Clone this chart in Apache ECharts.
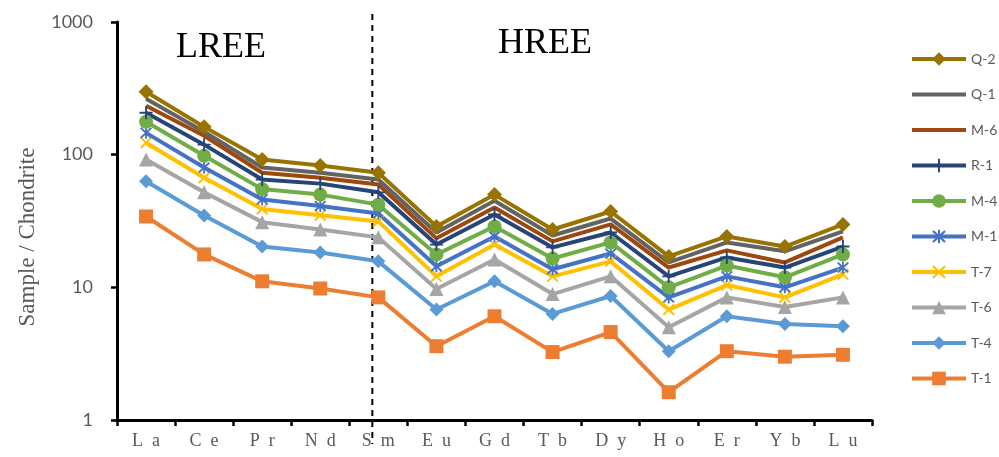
<!DOCTYPE html>
<html>
<head>
<meta charset="utf-8">
<script src="https://cdn.jsdelivr.net/npm/echarts@6/dist/echarts.min.js"></script>
<style>
  html, body { margin: 0; padding: 0; background: #fff; }
  #chart { width: 999px; height: 457px; }
</style>
</head>
<body>
<div id="chart"></div>
<script>
// Chondrite-normalised REE patterns
const elements = ['La', 'Ce', 'Pr', 'Nd', 'Sm', 'Eu', 'Gd', 'Tb', 'Dy', 'Ho', 'Er', 'Yb', 'Lu'];
const yTicks = [1, 10, 100, 1000];

const Q2 = [298, 162, 92, 83, 73, 28.8, 50, 27.3, 37.3, 17.1, 24.2, 20.3, 29.8];
const Q1 = [264, 149, 80, 73, 65, 25.9, 45, 24.6, 33, 15.4, 21.8, 18.7, 26.4];
const M6 = [234, 139, 73, 67, 59.5, 23.4, 40, 22.2, 29.8, 14.1, 19, 15.4, 23.8];
const R1 = [207, 119, 65, 60.5, 52, 21, 35.4, 20, 25.9, 12.1, 16.8, 14.1, 20.3];
const M4 = [177, 98, 55, 50, 42, 17.7, 28.8, 16.5, 21.8, 10, 14.6, 11.9, 17.7];
const M1 = [146, 80, 46, 41, 36, 14.4, 24.2, 13.7, 18, 8.4, 12.1, 10, 14.1];
const T7 = [123, 67, 39, 35, 31.4, 12.1, 21, 12.1, 15.7, 6.8, 10.4, 8.4, 12.5];
const T6 = [92, 52, 31, 27.3, 23.8, 9.7, 16.2, 8.9, 12.1, 5.0, 8.4, 7.1, 8.4];
const T4 = [63, 34.8, 20.3, 18.3, 15.7, 6.8, 11.1, 6.3, 8.6, 3.3, 6.05, 5.3, 5.1];
const T1 = [34.2, 17.7, 11.1, 9.8, 8.4, 3.6, 6.05, 3.25, 4.6, 1.62, 3.3, 3.0, 3.1];

const legendOrder = ['Q-2', 'Q-1', 'M-6', 'R-1', 'M-4', 'M-1', 'T-7', 'T-6', 'T-4', 'T-1'];
const plainLines = ['Q-1', 'M-6'];

// marker shapes
const plusPath = 'path://M6,0H8V6H14V8H8V14H6V8H0V6H6Z';
const crossPath = 'path://M0.5,2L2,0.5L13.5,12L12,13.5Z M12,0.5L13.5,2L2,13.5L0.5,12Z';
const starPath = 'path://M6,0H8V14H6Z M0.5,2L2,0.5L13.5,12L12,13.5Z M12,0.5L13.5,2L2,13.5L0.5,12Z';

// drawn bottom-up so Q-2 sits on top
const seriesDefs = [
  { name: 'T-1', data: T1, color: '#ED7D31', symbol: 'rect', size: 14 },
  { name: 'T-4', data: T4, color: '#5B9BD5', symbol: 'diamond', size: 14 },
  { name: 'T-6', data: T6, color: '#A5A5A5', symbol: 'triangle', size: 14 },
  { name: 'T-7', data: T7, color: '#FFC000', symbol: crossPath, size: 12 },
  { name: 'M-1', data: M1, color: '#4472C4', symbol: starPath, size: 12 },
  { name: 'M-4', data: M4, color: '#70AD47', symbol: 'circle', size: 14 },
  { name: 'R-1', data: R1, color: '#264478', symbol: plusPath, size: 13 },
  { name: 'M-6', data: M6, color: '#9E480E', symbol: 'none', size: 0 },
  { name: 'Q-1', data: Q1, color: '#636363', symbol: 'none', size: 0 },
  { name: 'Q-2', data: Q2, color: '#997300', symbol: 'diamond', size: 15 }
];

const chart = echarts.init(document.getElementById('chart'), null, { renderer: 'canvas' });

const serif = '"Liberation Serif"';
const sans = 'Lato';

chart.setOption({
  animation: false,
  backgroundColor: '#ffffff',
  grid: { left: 117, right: 127, top: 22, bottom: 37, containLabel: false },
  legend: {
    data: legendOrder.map(n => plainLines.includes(n)
      ? { name: n, itemStyle: { opacity: 0 } }
      : { name: n }),
    orient: 'vertical',
    left: 910,
    top: 52,
    padding: 0,
    itemWidth: 54,
    itemHeight: 17,
    itemGap: 21.5,
    lineStyle: { width: 4 },
    textStyle: { color: '#595959', fontSize: 14, fontFamily: sans }
  },
  xAxis: {
    type: 'category',
    data: elements,
    boundaryGap: true,
    axisLine: { lineStyle: { color: '#000', width: 3 } },
    axisTick: { show: true, interval: 0, length: 6, lineStyle: { color: '#000', width: 2.5 } },
    axisLabel: {
      interval: 0,
      margin: 12,
      color: '#595959',
      fontSize: 18,
      fontFamily: serif,
      formatter: v => v.split('').join('\u2002')
    }
  },
  yAxis: {
    type: 'log',
    logBase: 10,
    min: yTicks[0],
    max: yTicks[yTicks.length - 1],
    axisLine: { show: true, lineStyle: { color: '#000', width: 3 } },
    axisTick: { show: true, length: 6, lineStyle: { color: '#000', width: 2.5 } },
    minorTick: { show: false },
    splitLine: { show: false },
    axisLabel: {
      color: '#595959', fontSize: 18, fontFamily: sans, margin: 24,
      formatter: v => String(v)
    }
  },
  series: seriesDefs.map(s => ({
    name: s.name,
    type: 'line',
    data: s.data,
    symbol: s.symbol,
    symbolSize: s.size,
    showSymbol: s.symbol !== 'none',
    lineStyle: { color: s.color, width: 4 },
    itemStyle: { color: s.color, borderWidth: 0 },
    emphasis: { disabled: true }
  }))
});

// LREE / HREE divider, group labels and the axis title
const divX = chart.convertToPixel({ xAxisIndex: 0 }, 'Sm') - 6;
chart.setOption({
  graphic: [
    {
      type: 'line',
      shape: { x1: divX, y1: 14, x2: divX, y2: 444 },
      style: { stroke: '#000', lineWidth: 2, lineDash: [6, 5] },
      z: 1
    },
    {
      type: 'text',
      left: 176, top: 30,
      style: { text: 'LREE', fill: '#000', font: '36px "Liberation Serif"' }
    },
    {
      type: 'text',
      left: 498, top: 26,
      style: { text: 'HREE', fill: '#000', font: '36px "Liberation Serif"' }
    },
    {
      type: 'text',
      x: 28, y: 237,
      rotation: Math.PI / 2,
      style: {
        text: 'Sample / Chondrite', fill: '#595959',
        font: '23px "Liberation Serif"', align: 'center', verticalAlign: 'middle'
      }
    }
  ]
});
</script>
</body>
</html>
